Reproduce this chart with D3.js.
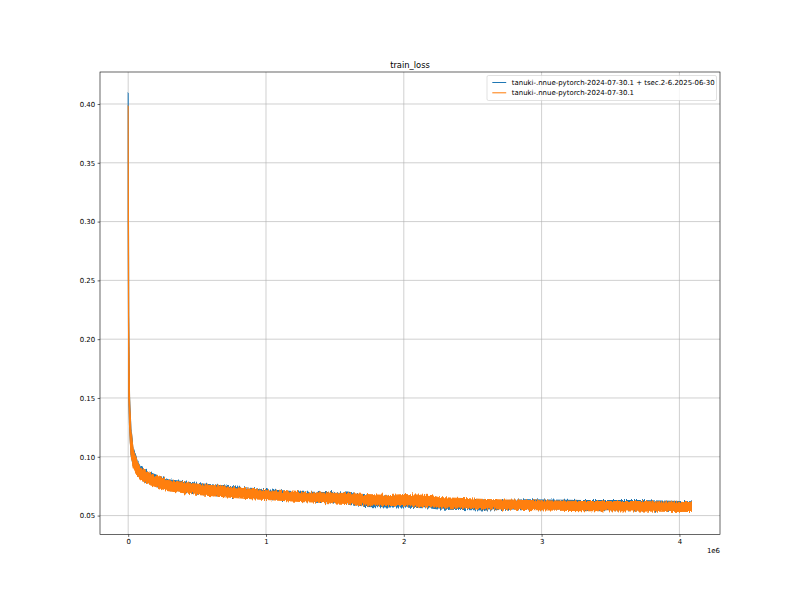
<!DOCTYPE html>
<html>
<head>
<meta charset="utf-8">
<script src="https://cdn.jsdelivr.net/npm/d3@7"></script>
<style>
  html, body { margin: 0; padding: 0; background: #fff; }
  svg { display: block; font-family: "DejaVu Sans", sans-serif; }
</style>
</head>
<body>
<svg id="chart" width="800" height="600"></svg>
<script>
// ---- data ----
const seriesNames = [
  "tanuki-.nnue-pytorch-2024-07-30.1 + tsec.2-6.2025-06-30",
  "tanuki-.nnue-pytorch-2024-07-30.1"
];
// training step (×1e6) at which the noisy band was sampled
const steps = [0, 0.004, 0.010, 0.020, 0.036, 0.065, 0.087, 0.160, 0.290, 0.523, 0.762, 1.002, 1.249, 1.590, 1.720, 1.902, 1.996, 2.199, 2.250, 2.599, 2.897, 3.303, 3.702, 4.087];
// upper / lower edges of each noisy loss band
const blueHi   = [0.410, 0.220, 0.151, 0.1238, 0.1068, 0.0966, 0.0915, 0.0864, 0.0804, 0.0770, 0.0745, 0.0719, 0.0701, 0.0692, 0.0668, 0.0655, 0.0663, 0.0655, 0.0638, 0.0624, 0.0634, 0.0627, 0.0627, 0.0618];
const blueLo   = [0.300, 0.150, 0.125, 0.102, 0.0926, 0.0858, 0.0816, 0.0773, 0.0722, 0.0688, 0.0663, 0.0646, 0.0629, 0.0610, 0.0578, 0.0573, 0.0573, 0.0564, 0.0556, 0.0547, 0.0561, 0.0552, 0.0548, 0.0544];
const orangeHi = [0.399, 0.220, 0.150, 0.123, 0.1061, 0.0959, 0.0908, 0.0857, 0.0797, 0.0763, 0.0738, 0.0712, 0.0695, 0.0687, 0.0680, 0.0670, 0.0678, 0.0670, 0.0653, 0.0636, 0.0627, 0.0619, 0.0619, 0.0610];
const orangeLo = [0.300, 0.150, 0.125, 0.102, 0.0916, 0.0848, 0.0806, 0.0763, 0.0712, 0.0678, 0.0653, 0.0636, 0.0619, 0.0602, 0.0590, 0.0585, 0.0585, 0.0576, 0.0568, 0.0559, 0.0551, 0.0542, 0.0538, 0.0534];
const xTicks = [0, 1, 2, 3, 4];
const yTicks = [0.05, 0.10, 0.15, 0.20, 0.25, 0.30, 0.35, 0.40];
const xLimits = [-0.2045, 4.2945];
const yLimits = [0.0339, 0.4272];
const colors = ["#1f77b4", "#ff7f0e"];

// ---- layout ----
const svg = d3.select("#chart");
const L = 100, R = 720, T = 72, B = 534.5;
const fs = 6.95;
const tick = 2.4;

const x = d3.scaleLinear().domain(xLimits).range([L, R]);
const y = d3.scaleLinear().domain(yLimits).range([B, T]);

// roughening filters so the bands look like dense noisy lines (vertical jitter only)
const defs = svg.append("defs");
[{ id: "rough0", seed: 7 }, { id: "rough1", seed: 19 }].forEach(f => {
  const flt = defs.append("filter").attr("id", f.id)
    .attr("x", "-2%").attr("y", "-5%").attr("width", "104%").attr("height", "110%")
    .attr("color-interpolation-filters", "sRGB");
  flt.append("feTurbulence").attr("type", "fractalNoise")
    .attr("baseFrequency", "0.9 0.06").attr("numOctaves", 2).attr("seed", f.seed).attr("result", "noise");
  flt.append("feColorMatrix").attr("in", "noise").attr("type", "matrix")
    .attr("values", "0 0 0 0 0.5  0 1 0 0 0  0 0 0 0 0  0 0 0 0 1").attr("result", "map");
  flt.append("feDisplacementMap").attr("in", "SourceGraphic").attr("in2", "map")
    .attr("scale", 5.5).attr("xChannelSelector", "R").attr("yChannelSelector", "G");
});

// grid
const grid = svg.append("g");
grid.selectAll(".gx").data(xTicks).enter().append("line")
  .attr("x1", d => x(d)).attr("x2", d => x(d)).attr("y1", T).attr("y2", B)
  .attr("stroke", "#b0b0b0").attr("stroke-width", 0.6);
grid.selectAll(".gy").data(yTicks).enter().append("line")
  .attr("y1", d => y(d)).attr("y2", d => y(d)).attr("x1", L).attr("x2", R)
  .attr("stroke", "#b0b0b0").attr("stroke-width", 0.6);

// series
const bands = [
  steps.map((s, i) => ({ s, hi: blueHi[i], lo: blueLo[i] })),
  steps.map((s, i) => ({ s, hi: orangeHi[i], lo: orangeLo[i] }))
];
const area = d3.area()
  .x(d => x(d.s))
  .y0(d => y(d.lo))
  .y1(d => y(d.hi));
const plot = svg.append("g");
bands.forEach((band, k) => {
  plot.append("path")
    .attr("d", area(band))
    .attr("fill", colors[k])
    .attr("stroke", colors[k])
    .attr("stroke-width", 1.05)
    .attr("stroke-linejoin", "round")
    .attr("filter", `url(#rough${k})`);
});

// axes
const xAxis = d3.axisBottom(x).tickValues(xTicks).tickFormat(d3.format("d")).tickSize(tick).tickPadding(tick);
const yAxis = d3.axisLeft(y).tickValues(yTicks).tickFormat(d3.format(".2f")).tickSize(tick).tickPadding(tick);
const gx = svg.append("g").attr("transform", `translate(0,${B})`).call(xAxis);
const gy = svg.append("g").attr("transform", `translate(${L},0)`).call(yAxis);
[gx, gy].forEach(g => {
  g.select(".domain").remove();
  g.selectAll("line").attr("stroke", "#000").attr("stroke-width", 0.6);
  g.selectAll("text").attr("fill", "#000").style("font-size", fs + "px")
    .style("font-family", "'DejaVu Sans', sans-serif");
});

// frame
svg.append("rect").attr("x", L).attr("y", T).attr("width", R - L).attr("height", B - T)
  .attr("fill", "none").attr("stroke", "#000").attr("stroke-width", 0.6);

// offset text
svg.append("text").attr("x", R).attr("y", 553.3).attr("text-anchor", "end")
  .style("font-size", fs + "px").text("1e6");

// title
svg.append("text").attr("x", (L + R) / 2).attr("y", 67.6).attr("text-anchor", "middle")
  .style("font-size", "8.35px").text("train_loss");

// legend
const legW = 229.5, legH = 25;
const lx = R - 3.5 - legW, ly = T + 3.5;
const leg = svg.append("g");
leg.append("rect").attr("x", lx).attr("y", ly).attr("width", legW).attr("height", legH)
  .attr("rx", 1.5).attr("fill", "#fff").attr("fill-opacity", 0.8)
  .attr("stroke", "#cccccc").attr("stroke-width", 0.6);
seriesNames.forEach((name, i) => {
  const cy = ly + 7 + i * 10.3;
  leg.append("line").attr("x1", lx + 5.3).attr("x2", lx + 19.2).attr("y1", cy).attr("y2", cy)
    .attr("stroke", colors[i]).attr("stroke-width", 1.05);
  leg.append("text").attr("x", lx + 24.8).attr("y", cy + 2.5)
    .style("font-size", fs + "px").text(name);
});
</script>
</body>
</html>
